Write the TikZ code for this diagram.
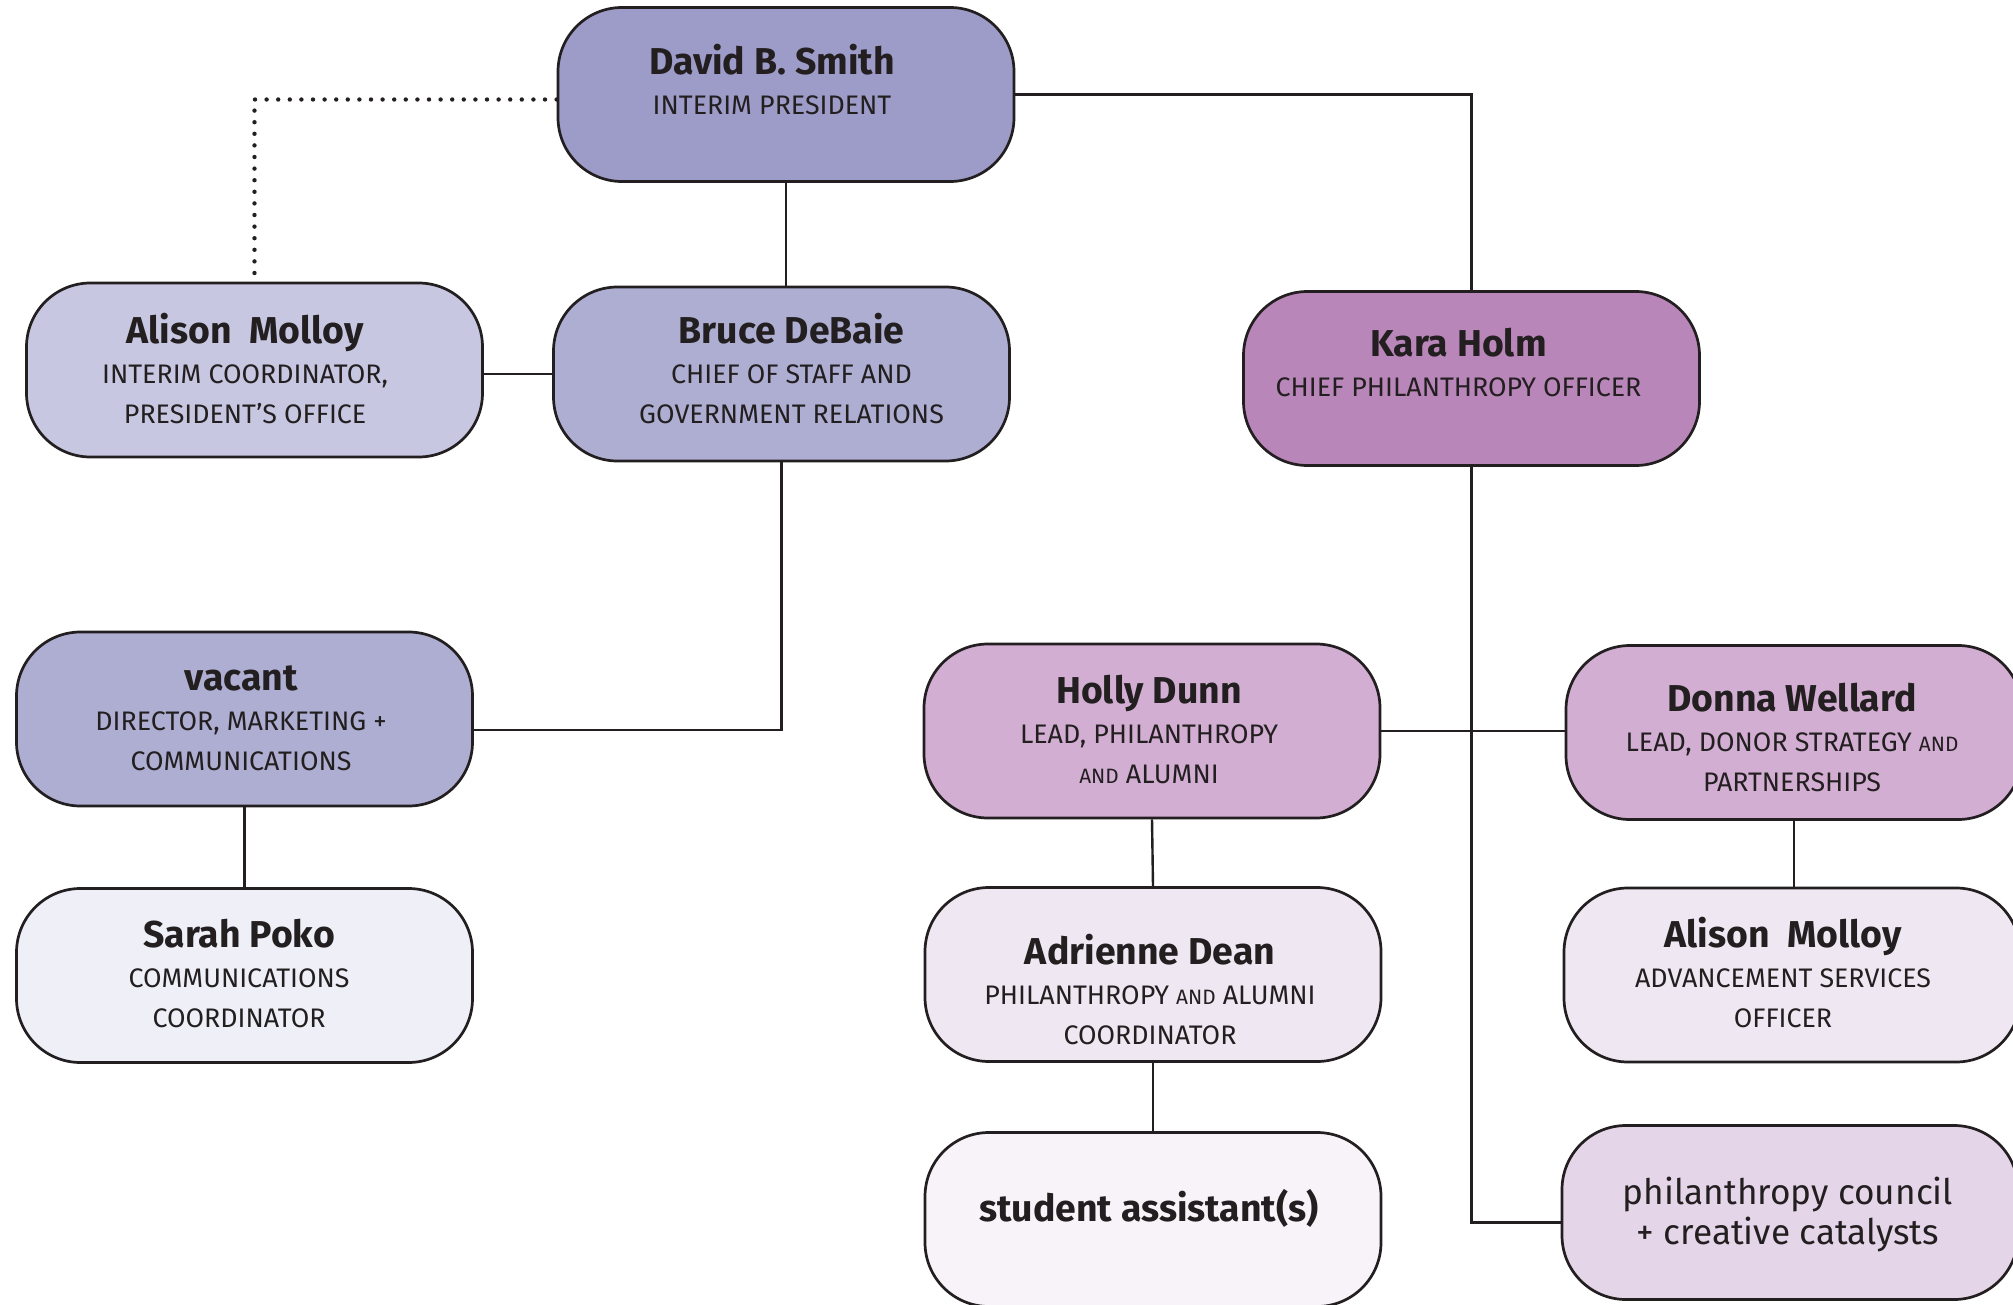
\documentclass[tikz,border=0pt]{standalone}
\usepackage{fontspec}
\setmainfont{Fira Sans}
\definecolor{ink}{HTML}{231F20}
\definecolor{presc}{HTML}{9D9BC7}
\definecolor{offc}{HTML}{C7C7E1}
\definecolor{staffc}{HTML}{AEAED2}
\definecolor{commc}{HTML}{EEEFF7}
\definecolor{chiefc}{HTML}{B986BA}
\definecolor{leadc}{HTML}{D2AED3}
\definecolor{coordc}{HTML}{EFE7F1}
\definecolor{studc}{HTML}{F8F3F9}
\definecolor{councc}{HTML}{E5D5E8}
\newcommand{\sst}{\rule[-5pt]{0pt}{10pt}}
\newcommand{\nm}[1]{{\fontsize{18.7pt}{20pt}\selectfont\bfseries\sst#1}}
\newcommand{\sand}{{\fontsize{10.4pt}{20pt}\selectfont AND}}
\begin{document}
\begin{tikzpicture}[x=0.5pt, y=-0.5pt,
    pill/.style={draw=ink, line width=1.35pt, rounded corners=32pt,
      minimum width=228pt, minimum height=87pt, inner sep=0pt},
    lbl/.style={text=ink, align=center, inner sep=0pt,
      font=\fontsize{13.4pt}{20pt}\selectfont},
    link/.style={draw=ink, line width=1.2pt},
    dotline/.style={draw=ink, line width=2.2pt, line cap=round,
      dash pattern=on 0pt off 5.8pt}]
  \useasboundingbox (0,0) rectangle (2013,1305);
  \clip (0,0) rectangle (2013,1305);
  \coordinate (dotend) at (254.5,273);
  \node[pill, fill=presc] (david) at (786,94.5) {};
  \node[pill, fill=offc] (alisonA) at (254.5,370) {};
  \node[pill, fill=staffc] (bruce) at (781.5,374) {};
  \node[pill, fill=chiefc] (kara) at (1471.5,378.5) {};
  \node[pill, fill=staffc] (vacant) at (244.5,719) {};
  \node[pill, fill=commc] (sarah) at (244.5,975.5) {};
  \node[pill, fill=leadc] (holly) at (1152,731) {};
  \node[pill, fill=leadc] (donna) at (1794,732.5) {};
  \node[pill, fill=coordc] (adrienne) at (1153,974.5) {};
  \node[pill, fill=coordc] (alisonB) at (1792,975) {};
  \node[pill, fill=studc] (student) at (1153,1219.5) {};
  \node[pill, fill=councc] (council) at (1790,1212.5) {};

  \draw[dotline] (dotend) |- ([yshift=-2.5pt]david.west);
  \draw[link] (david.south) -- (david.south |- bruce.north);
  \draw[link] (david.east) -| (kara.north);
  \draw[link] (bruce.west) -- (bruce.west -| alisonA.east);
  \draw[link] (bruce.south) |- ([yshift=-5.5pt]vacant.east);
  \draw[link] (vacant.south) -- (sarah.north);
  \draw[link] (kara.south) |- ([yshift=-5pt]council.west);
  \draw[link] (holly.east) -- (holly.east -| donna.west);
  \draw[link] (holly.south) -- (adrienne.north);
  \draw[link] (adrienne.south) -- (student.north);
  \draw[link] (donna.south) -- (donna.south |- alisonB.north);

  \node[lbl] (davidt) at ([xshift=-7pt,yshift=5pt]david.center)
    {\nm{David B. Smith}\\INTERIM PRESIDENT\sst};
  \node[lbl] (alisonAt) at ([xshift=-4.7pt,yshift=-1.5pt]alisonA.center)
    {\nm{Alison~~Molloy}\\INTERIM COORDINATOR,\\PRESIDENT’S OFFICE\sst};
  \node[lbl] (brucet) at ([xshift=5pt,yshift=0.5pt]bruce.center)
    {\nm{Bruce DeBaie}\\CHIEF OF STAFF AND\\GOVERNMENT RELATIONS\sst};
  \node[lbl] (karat) at ([xshift=-6.5pt,yshift=5.5pt]kara.center)
    {\nm{Kara Holm}\\CHIEF PHILANTHROPY OFFICER\sst};
  \node[lbl] (vacantt) at ([xshift=-1.7pt,yshift=-1.8pt]vacant.center)
    {\nm{vacant}\\DIRECTOR, MARKETING +\\COMMUNICATIONS\sst};
  \node[lbl] (saraht) at ([xshift=-2.7pt,yshift=-1.2pt]sarah.center)
    {\nm{Sarah Poko}\\COMMUNICATIONS\\COORDINATOR\sst};
  \node[lbl] (hollyt) at ([xshift=-1.5pt,yshift=-1.8pt]holly.center)
    {\nm{Holly Dunn}\\LEAD, PHILANTHROPY\\\sand{} ALUMNI\sst};
  \node[lbl] (donnat) at ([xshift=-1pt,yshift=-5pt]donna.center)
    {\nm{Donna Wellard}\\LEAD, DONOR STRATEGY \sand\\PARTNERSHIPS\sst};
  \node[lbl] (adriennet) at ([xshift=-1.5pt,yshift=-10pt]adrienne.center)
    {\nm{Adrienne Dean}\\PHILANTHROPY \sand{} ALUMNI\\COORDINATOR\sst};
  \node[lbl] (alisonBt) at ([xshift=-4.5pt,yshift=-1.3pt]alisonB.center)
    {\nm{Alison~~Molloy}\\ADVANCEMENT SERVICES\\OFFICER\sst};
  \node[lbl] (studentt) at ([xshift=-2pt,yshift=4.7pt]student.center)
    {\nm{student assistant(s)}};
  \node[lbl, font=\fontsize{17.6pt}{20pt}\selectfont] (councilt)
    at ([xshift=-1pt,yshift=-1.5pt]council.center)
    {\sst philanthropy council\\+ creative catalysts\sst};
\end{tikzpicture}
\end{document}
